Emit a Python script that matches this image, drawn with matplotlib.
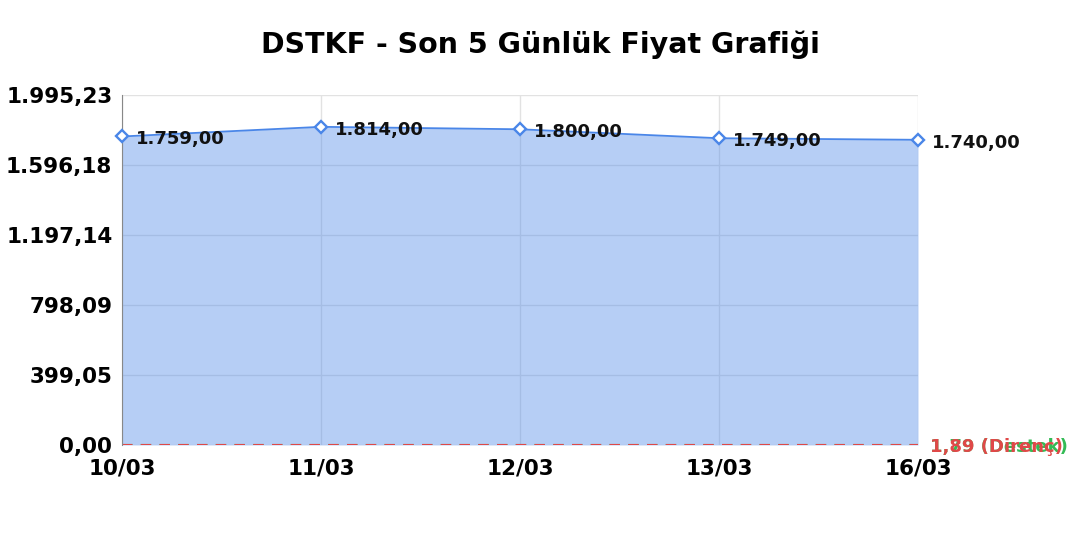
import matplotlib
matplotlib.use("Agg")
import matplotlib.pyplot as plt
import numpy as np

plt.rcParams["font.family"] = ["DejaVu Sans"]

# data
dates = ["10/03", "11/03", "12/03", "13/03", "16/03"]
prices = [1759.00, 1814.00, 1800.00, 1749.00, 1740.00]
destek = 1.79
direnc = 1.89
y_max = 1995.23


def tr_fmt(v):
    s = f"{v:,.2f}"
    return s.replace(",", "X").replace(".", ",").replace("X", ".")


fig = plt.figure(figsize=(10.8, 5.4), dpi=100)
ax = fig.add_axes([0.113, 0.176, 0.737, 0.648])

x = np.arange(len(dates))
line_c = "#4a86e8"
ax.fill_between(x, prices, 0, color=line_c, alpha=0.4, lw=0, zorder=2)
ax.plot(x, prices, color=line_c, lw=1.3, zorder=3)
ax.plot(x, prices, ls="none", marker="D", ms=6.5, mfc="white", mec=line_c,
        mew=1.7, zorder=4, clip_on=False)

for xi, p in zip(x, prices):
    ax.annotate(tr_fmt(p), (xi, p), xytext=(10, -2), textcoords="offset points",
                ha="left", va="center", fontsize=13, fontweight="bold",
                color="#111111", zorder=5)

# support / resistance
ax.axhline(destek, color="#33bb55", ls=(0, (5, 4)), lw=1.5, zorder=2)
ax.axhline(direnc, color="#e04848", ls=(0, (5, 4)), lw=1.5, zorder=2)
ax.annotate(f"{tr_fmt(destek)} (Destek)", (1.0, destek), xycoords=("axes fraction", "data"),
            xytext=(9, -2), textcoords="offset points", ha="left", va="center",
            fontsize=13, fontweight="bold", color="#33bb55")
ax.annotate(f"{tr_fmt(direnc)} (Direnç)", (1.0, direnc), xycoords=("axes fraction", "data"),
            xytext=(9, -2), textcoords="offset points", ha="left", va="center",
            fontsize=13, fontweight="bold", color="#e04848")

ax.set_xlim(0, len(dates) - 1)
ax.set_ylim(0, y_max)
yticks = np.linspace(0, y_max, 6)
ax.set_yticks(yticks)
ax.set_yticklabels([tr_fmt(v) for v in yticks])
ax.set_xticks(x)
ax.set_xticklabels(dates)
for lab in ax.get_xticklabels() + ax.get_yticklabels():
    lab.set_fontsize(15.5)
    lab.set_fontweight("bold")
ax.tick_params(axis="y", length=0, pad=7)
ax.tick_params(axis="x", length=0, pad=10)

ax.grid(True, color="#e2e2e2", lw=1, zorder=1)
ax.set_axisbelow(True)
for side in ["top", "right", "bottom"]:
    ax.spines[side].set_visible(False)
ax.spines["left"].set_color("#888888")
ax.spines["left"].set_zorder(3)

fig.suptitle("DSTKF - Son 5 Günlük Fiyat Grafiği", fontsize=20.5,
             fontweight="bold", y=0.944, x=0.5)

fig.savefig("out.png", dpi=100)
